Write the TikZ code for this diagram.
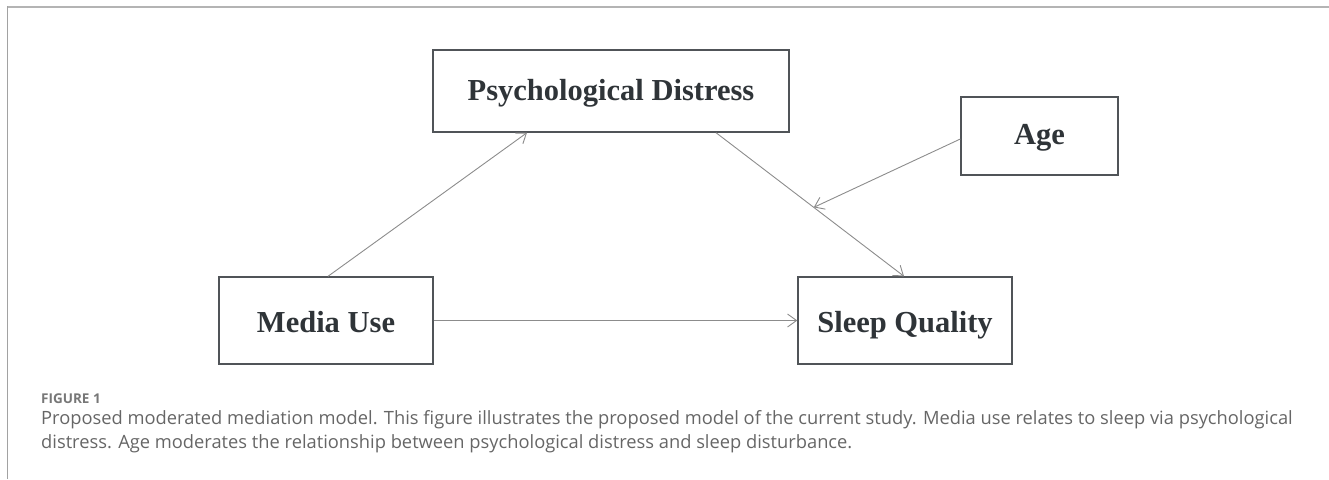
\documentclass[tikz,border=0pt]{standalone}
\usepackage{fontspec}
\setmainfont{Liberation Serif}
\newfontfamily\captionfont{Open Sans}
\usepackage{xcolor}
\definecolor{boxgray}{HTML}{505458}
\definecolor{arrowgray}{HTML}{8C8C8C}
\definecolor{textdark}{HTML}{2F3438}
\definecolor{captiongray}{HTML}{666666}
\definecolor{labelgray}{HTML}{777777}
\definecolor{framegray}{HTML}{B4B4B4}
\usepackage{tikz}
\usetikzlibrary{arrows.meta,calc}

\begin{document}
\begin{tikzpicture}[x=1pt,y=-1pt,
    varbox/.style={draw=boxgray, line width=1.4pt, fill=white, text=textdark,
      font=\fontsize{30.5}{34}\selectfont\bfseries, inner sep=0pt, text depth=0pt},
    link/.style={draw=arrowgray, line width=0.9pt, -{Straight Barb[length=9pt,width=13pt]}},
    captext/.style={anchor=base west, inner sep=0pt, text=captiongray,
      font=\captionfont\fontsize{18.3}{24}\selectfont}]
            \useasboundingbox (0,0) rectangle (1329,479);

            % Frame
            \draw[framegray, line width=2pt] (7,6.5) -- (1329,6.5);
            \draw[framegray!90!black, line width=1.4pt] (7.5,6) -- (7.5,479);

            % Variables
            \node[varbox, minimum width=356pt, minimum height=82pt, text height=18pt] (distress) at (611,91) {Psychological Distress};
            \node[varbox, minimum width=157pt, minimum height=78pt, text height=17pt] (age) at (1039.5,136) {Age};
            \node[varbox, minimum width=214pt, minimum height=87pt, text height=24pt] (media) at (326,320.5) {Media Use};
            \node[varbox, minimum width=214pt, minimum height=87pt, text height=24pt] (sleep) at (905,320.5) {Sleep Quality};

            % Paths
            \draw[link] ([xshift=2pt]media.north) -- ([xshift=-84pt]distress.south);
            \draw[link] ([xshift=105pt]distress.south) -- coordinate[pos=0.52] (moderation) ([xshift=-1pt]sleep.north);
            \draw[link] ([yshift=-3pt]age.west) -- (moderation);
            \draw[link] (media.east) -- (sleep.west);

            % Caption
            \node[captext, text=labelgray, font=\captionfont\fontsize{13.5}{16}\selectfont\bfseries] (figlabel) at (41,403) {FIGURE 1};
            \node[captext] (capline1) at (41,424) {Proposed moderated mediation model. This figure illustrates the proposed model of the current study. Media use relates to sleep via psychological};
            \node[captext] (capline2) at (41,448) {distress. Age moderates the relationship between psychological distress and sleep disturbance.};
        \end{tikzpicture}
\end{document}
